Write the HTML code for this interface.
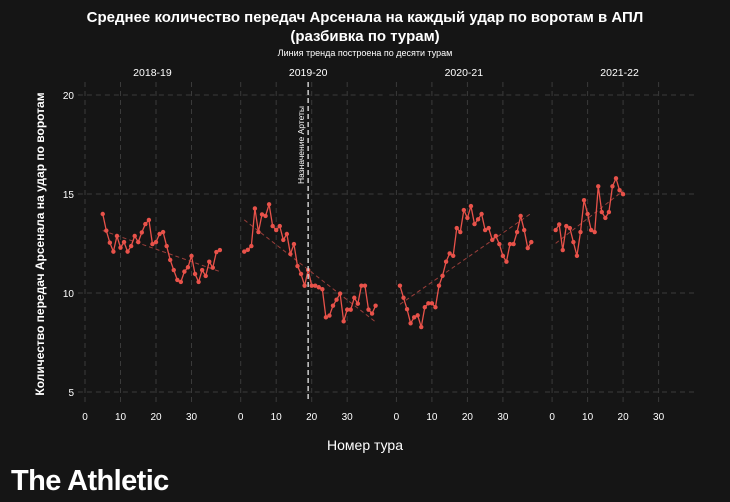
<!DOCTYPE html>
<html><head><meta charset="utf-8"><style>
body{margin:0;background:#151515;width:730px;height:502px;overflow:hidden;font-family:"Liberation Sans",sans-serif}
</style></head><body>
<svg id="c" width="730" height="502" xmlns="http://www.w3.org/2000/svg" style="display:block">
<rect width="730" height="502" fill="#151515"/>
<text x="365" y="22" fill="#fff" font-size="15" font-weight="bold" text-anchor="middle">Среднее количество передач Арсенала на каждый удар по воротам в АПЛ</text>
<text x="365" y="41" fill="#fff" font-size="15" font-weight="bold" text-anchor="middle">(разбивка по турам)</text>
<text x="365" y="56" fill="#fff" font-size="9" text-anchor="middle">Линия тренда построена по десяти турам</text>
<text x="44" y="244" fill="#fff" font-size="12" font-weight="bold" text-anchor="middle" transform="rotate(-90 44 244)">Количество передач Арсенала на удар по воротам</text>
<text x="365" y="450" fill="#fff" font-size="14" text-anchor="middle">Номер тура</text>
<text x="11" y="490" fill="#fff" font-size="29" font-weight="bold" letter-spacing="-0.6">The Athletic</text>
<g id="plot"></g>
</svg>
<script>
const seasons=["2018-19","2019-20","2020-21","2021-22"];
const rounds1=[5,6,7,8,9,10,11,12,13,14,15,16,17,18,19,20,21,22,23,24,25,26,27,28,29,30,31,32,33,34,35,36,37,38];
const values1=[13.99,13.15,12.54,12.09,12.88,12.29,12.57,12.09,12.37,12.88,12.57,13.06,13.48,13.69,12.47,12.57,12.98,13.08,12.37,11.67,11.16,10.66,10.56,11.08,11.3,11.87,10.96,10.56,11.16,10.86,11.58,11.28,12.07,12.17];
const rounds2=[1,2,3,4,5,6,7,8,9,10,11,12,13,14,15,16,17,18,19,20,21,22,23,24,25,26,27,28,29,30,31,32,33,34,35,36,37,38];
const values2=[12.09,12.18,12.37,14.27,13.08,13.97,13.89,14.48,13.38,13.18,13.38,12.68,12.98,11.97,12.47,11.36,10.96,10.37,11.16,10.37,10.37,10.29,10.19,8.77,8.86,9.36,9.66,9.97,8.57,9.16,9.16,9.76,9.46,10.37,10.37,9.16,8.96,9.36];
const rounds3=[1,2,3,4,5,6,7,8,9,10,11,12,13,14,15,16,17,18,19,20,21,22,23,24,25,26,27,28,29,30,31,32,33,34,35,36,37,38];
const values3=[10.37,9.76,9.18,8.47,8.77,8.87,8.28,9.28,9.48,9.48,9.28,10.37,10.87,11.58,12.0,11.88,13.28,13.08,14.19,13.79,14.39,13.48,13.72,13.99,13.18,13.28,12.68,12.88,12.47,11.87,11.58,12.47,12.47,13.08,13.89,13.18,12.27,12.57];
const rounds4=[1,2,3,4,5,6,7,8,9,10,11,12,13,14,15,16,17,18,19,20];
const values4=[13.18,13.46,12.17,13.38,13.28,12.57,11.88,13.08,14.69,13.99,13.18,13.08,15.39,14.09,13.79,14.09,15.39,15.79,15.19,14.99];
const yTicks=[5,10,15,20];
const xTicks=[0,10,20,30];
const arteta=19;

const NS="http://www.w3.org/2000/svg";
const plot=document.getElementById('plot');
const data=[[rounds1,values1],[rounds2,values2],[rounds3,values3],[rounds4,values4]];
function y(v){return 392-(v-5)*19.8;}
function xf(i){return r=>85+i*155.7+r*3.55;}
function mk(tag,attrs,parent){const e=document.createElementNS(NS,tag);for(const k in attrs)e.setAttribute(k,attrs[k]);(parent||plot).appendChild(e);return e;}
data.forEach((d,i)=>{
  const x=xf(i);
  const g=mk('g',{});
  
  
  const x0=x(-2),x1=x(40);
  yTicks.forEach(t=>{
    const l=mk('line',{x1:x0,x2:x1,y1:y(t),y2:y(t),stroke:'#3a3a3a','stroke-dasharray':'5,4','stroke-width':1},g);
    
    
    if(i===0){const tt=mk('text',{x:74,y:y(t)+4,fill:'#fff','font-size':10,'text-anchor':'end'},g);tt.textContent=t;
      
      }
  });
  xTicks.forEach(t=>{
    const l=mk('line',{x1:x(t),x2:x(t),y1:82,y2:402,stroke:'#3a3a3a','stroke-dasharray':'5,4','stroke-width':1},g);
    
    
    const tt=mk('text',{x:x(t),y:420,fill:'#fff','font-size':10,'text-anchor':'middle'},g);tt.textContent=t;
    
    
  });
  const st=mk('text',{x:x(19),y:76,fill:'#fff','font-size':10.5,'text-anchor':'middle'},g);st.textContent=seasons[i];
  
  
  const [rs,vs]=d;
  // season trend line (linear regression)
  {
    const n=rs.length,mx=rs.reduce((a,b)=>a+b)/n,my=vs.reduce((a,b)=>a+b)/n;
    let sxy=0,sxx=0;rs.forEach((r,k)=>{sxy+=(r-mx)*(vs[k]-my);sxx+=(r-mx)*(r-mx);});
    const b=sxy/sxx,a=my-b*mx;
    const ra=rs[0],rb=rs[n-1];
    const tl=mk('line',{x1:x(ra),x2:x(rb),y1:y(a+b*ra),y2:y(a+b*rb),stroke:'#9a3e3a','stroke-dasharray':'4,3','stroke-width':1},g);
    
    
  }
  const p=mk('polyline',{points:rs.map((r,k)=>x(r)+','+y(vs[k])).join(' '),fill:'none',stroke:'#e8524a','stroke-width':1.3},g);
  
  
  rs.forEach((r,k)=>{
    const c=mk('circle',{cx:x(r),cy:y(vs[k]),r:2.2,fill:'#e8524a'},g);
    
    
  });
  if(i===1){
    const ax=x(arteta);
    const vl=mk('line',{x1:ax,x2:ax,y1:82,y2:402,stroke:'#ccc','stroke-dasharray':'5,3','stroke-width':1.5},g);
    
    
    const at=mk('text',{x:ax-4,y:145,fill:'#fff','font-size':8.5,'text-anchor':'middle',transform:'rotate(-90 '+(ax-4)+' 145)'},g);
    at.textContent='Назначение Артеты';
    
    
  }
});
</script>
</body></html>
